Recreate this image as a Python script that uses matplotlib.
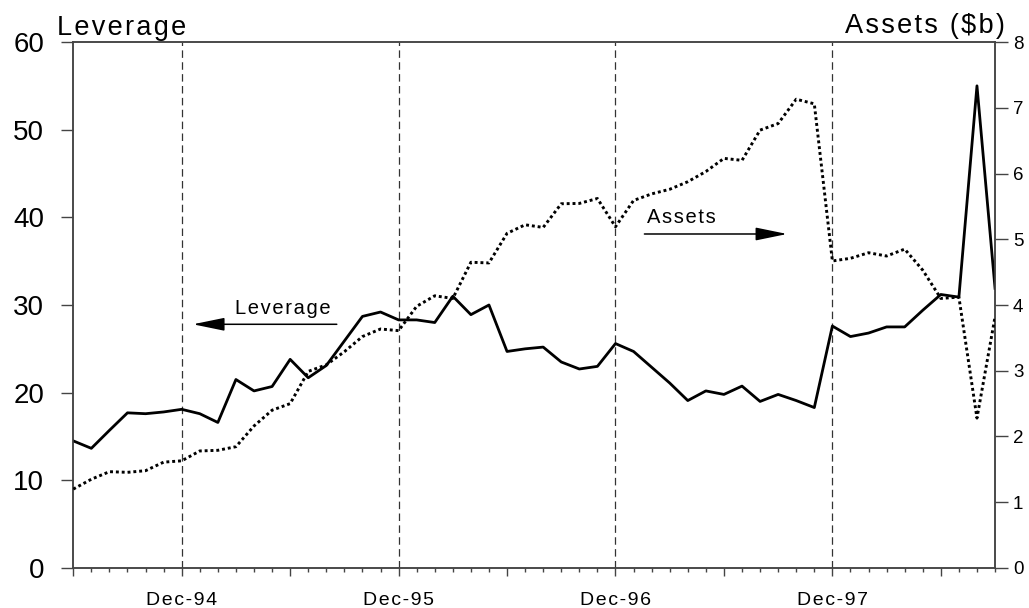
"""
Leverage vs assets, monthly Jun-94 .. Sep-98
"""

import numpy as np
import pandas as pd
import matplotlib as mpl
mpl.use('Agg')
import matplotlib.pyplot as plt

mpl.rcParams.update({
    'font.family': ['Liberation Sans', 'DejaVu Sans'],
    'axes.edgecolor': '#444444',
    'axes.linewidth': 1.1,
})

# monthly observations, Jun-94 .. Sep-98
months = pd.date_range('1994-06-01', periods=52, freq='MS')

leverage = [
    14.5, 13.65, 15.7, 17.7, 17.6, 17.8, 18.1, 17.6, 16.6, 21.5,
    20.2, 20.7, 23.8, 21.7, 23.1, 25.9, 28.7, 29.2, 28.3, 28.3,
    28.0, 31.0, 28.9, 30.0, 24.7, 25.0, 25.2, 23.5, 22.7, 23.0,
    25.6, 24.7, 22.9, 21.1, 19.1, 20.2, 19.8, 20.75, 19.0, 19.8,
    19.1, 18.3, 27.6, 26.4, 26.8, 27.5, 27.5, 29.4, 31.2, 30.9,
    55.0, 31.9,
]

assets = [
    1.20, 1.35, 1.465, 1.455, 1.48, 1.61, 1.63, 1.78, 1.79, 1.845,
    2.16, 2.40, 2.50, 2.99, 3.09, 3.29, 3.52, 3.635, 3.61, 3.98,
    4.14, 4.10, 4.65, 4.64, 5.09, 5.22, 5.18, 5.54, 5.545, 5.62,
    5.19, 5.59, 5.69, 5.76, 5.875, 6.03, 6.23, 6.20, 6.66, 6.76,
    7.13, 7.06, 4.67, 4.71, 4.795, 4.745, 4.85, 4.53, 4.10, 4.12,
    2.28, 3.82,
]

lev_ticks = [0, 10, 20, 30, 40, 50, 60]
asset_ticks = [0, 1, 2, 3, 4, 5, 6, 7, 8]

HS = '\u200a'  # hair space, fakes the wide letter spacing of the original


def spaced(s):
    return HS.join(s)


x = np.arange(len(months))
dec_idx = [i for i, m in enumerate(months) if m.month == 12]
jun_idx = [i for i, m in enumerate(months) if m.month == 6]
dec_labels = [spaced(m.strftime('%b-%y')) for m in months if m.month == 12]

fig = plt.figure(figsize=(10.29, 6.08), dpi=100)
ax = fig.add_axes([0.0712, 0.0658, 0.8958, 0.8651])
ax2 = ax.twinx()

# dashed year markers
for i in dec_idx:
    ax.axvline(x[i], color='#333333', lw=0.9, ls=(0, (6, 3.5)), zorder=1)

ax.plot(x, leverage, color='black', lw=2.0, zorder=3)
ax2.plot(x, assets, color='black', lw=2.1, ls=(0, (1.0, 1.0)), zorder=3)

ax.set_xlim(0, len(months) - 1)
ax.set_ylim(0, 60)
ax2.set_ylim(0, 8)

# x ticks: long at Dec/Jun, short every month
major = sorted(dec_idx + jun_idx)
ax.set_xticks(major)
ax.set_xticklabels([dec_labels[dec_idx.index(i)] if i in dec_idx else '' for i in major])
ax.set_xticks(x, minor=True)
ax.tick_params(axis='x', which='major', direction='out', length=6, width=1.0,
               color='#444444', labelsize=14, pad=11)
ax.tick_params(axis='x', which='minor', direction='out', length=3, width=1.0,
               color='#444444')

ax.set_yticks(lev_ticks)
ax.tick_params(axis='y', direction='out', length=9, width=1.0, color='#444444',
               labelsize=20, pad=12)
ax2.set_yticks(asset_ticks)
ax2.tick_params(axis='y', direction='out', length=9, width=1.0, color='#444444',
                labelsize=13.5, pad=4)

# axis titles sit on top of the frame
fig.text(57 / 1029, 1 - 35 / 608, spaced('Leverage'), fontsize=19.5,
         ha='left', va='baseline')
fig.text(1005 / 1029, 1 - 33 / 608, spaced('Assets ($b)'), fontsize=19.5,
         ha='right', va='baseline')

# arrow call-outs
head = '-|>,head_length=1.95,head_width=0.4'
ax.annotate('', xy=(6.62, 27.8), xytext=(14.58, 27.8),
            arrowprops=dict(arrowstyle=head, color='black', lw=1.1,
                            shrinkA=0, shrinkB=0))
ax.text(11.57, 29.65, spaced('Leverage'), fontsize=14.5, ha='center', va='center')
ax.annotate('', xy=(39.5, 38.1), xytext=(31.6, 38.1),
            arrowprops=dict(arrowstyle=head, color='black', lw=1.1,
                            shrinkA=0, shrinkB=0))
ax.text(33.64, 40.0, spaced('Assets'), fontsize=14.5, ha='center', va='center')

fig.savefig('out.png', dpi=100, facecolor='white')
